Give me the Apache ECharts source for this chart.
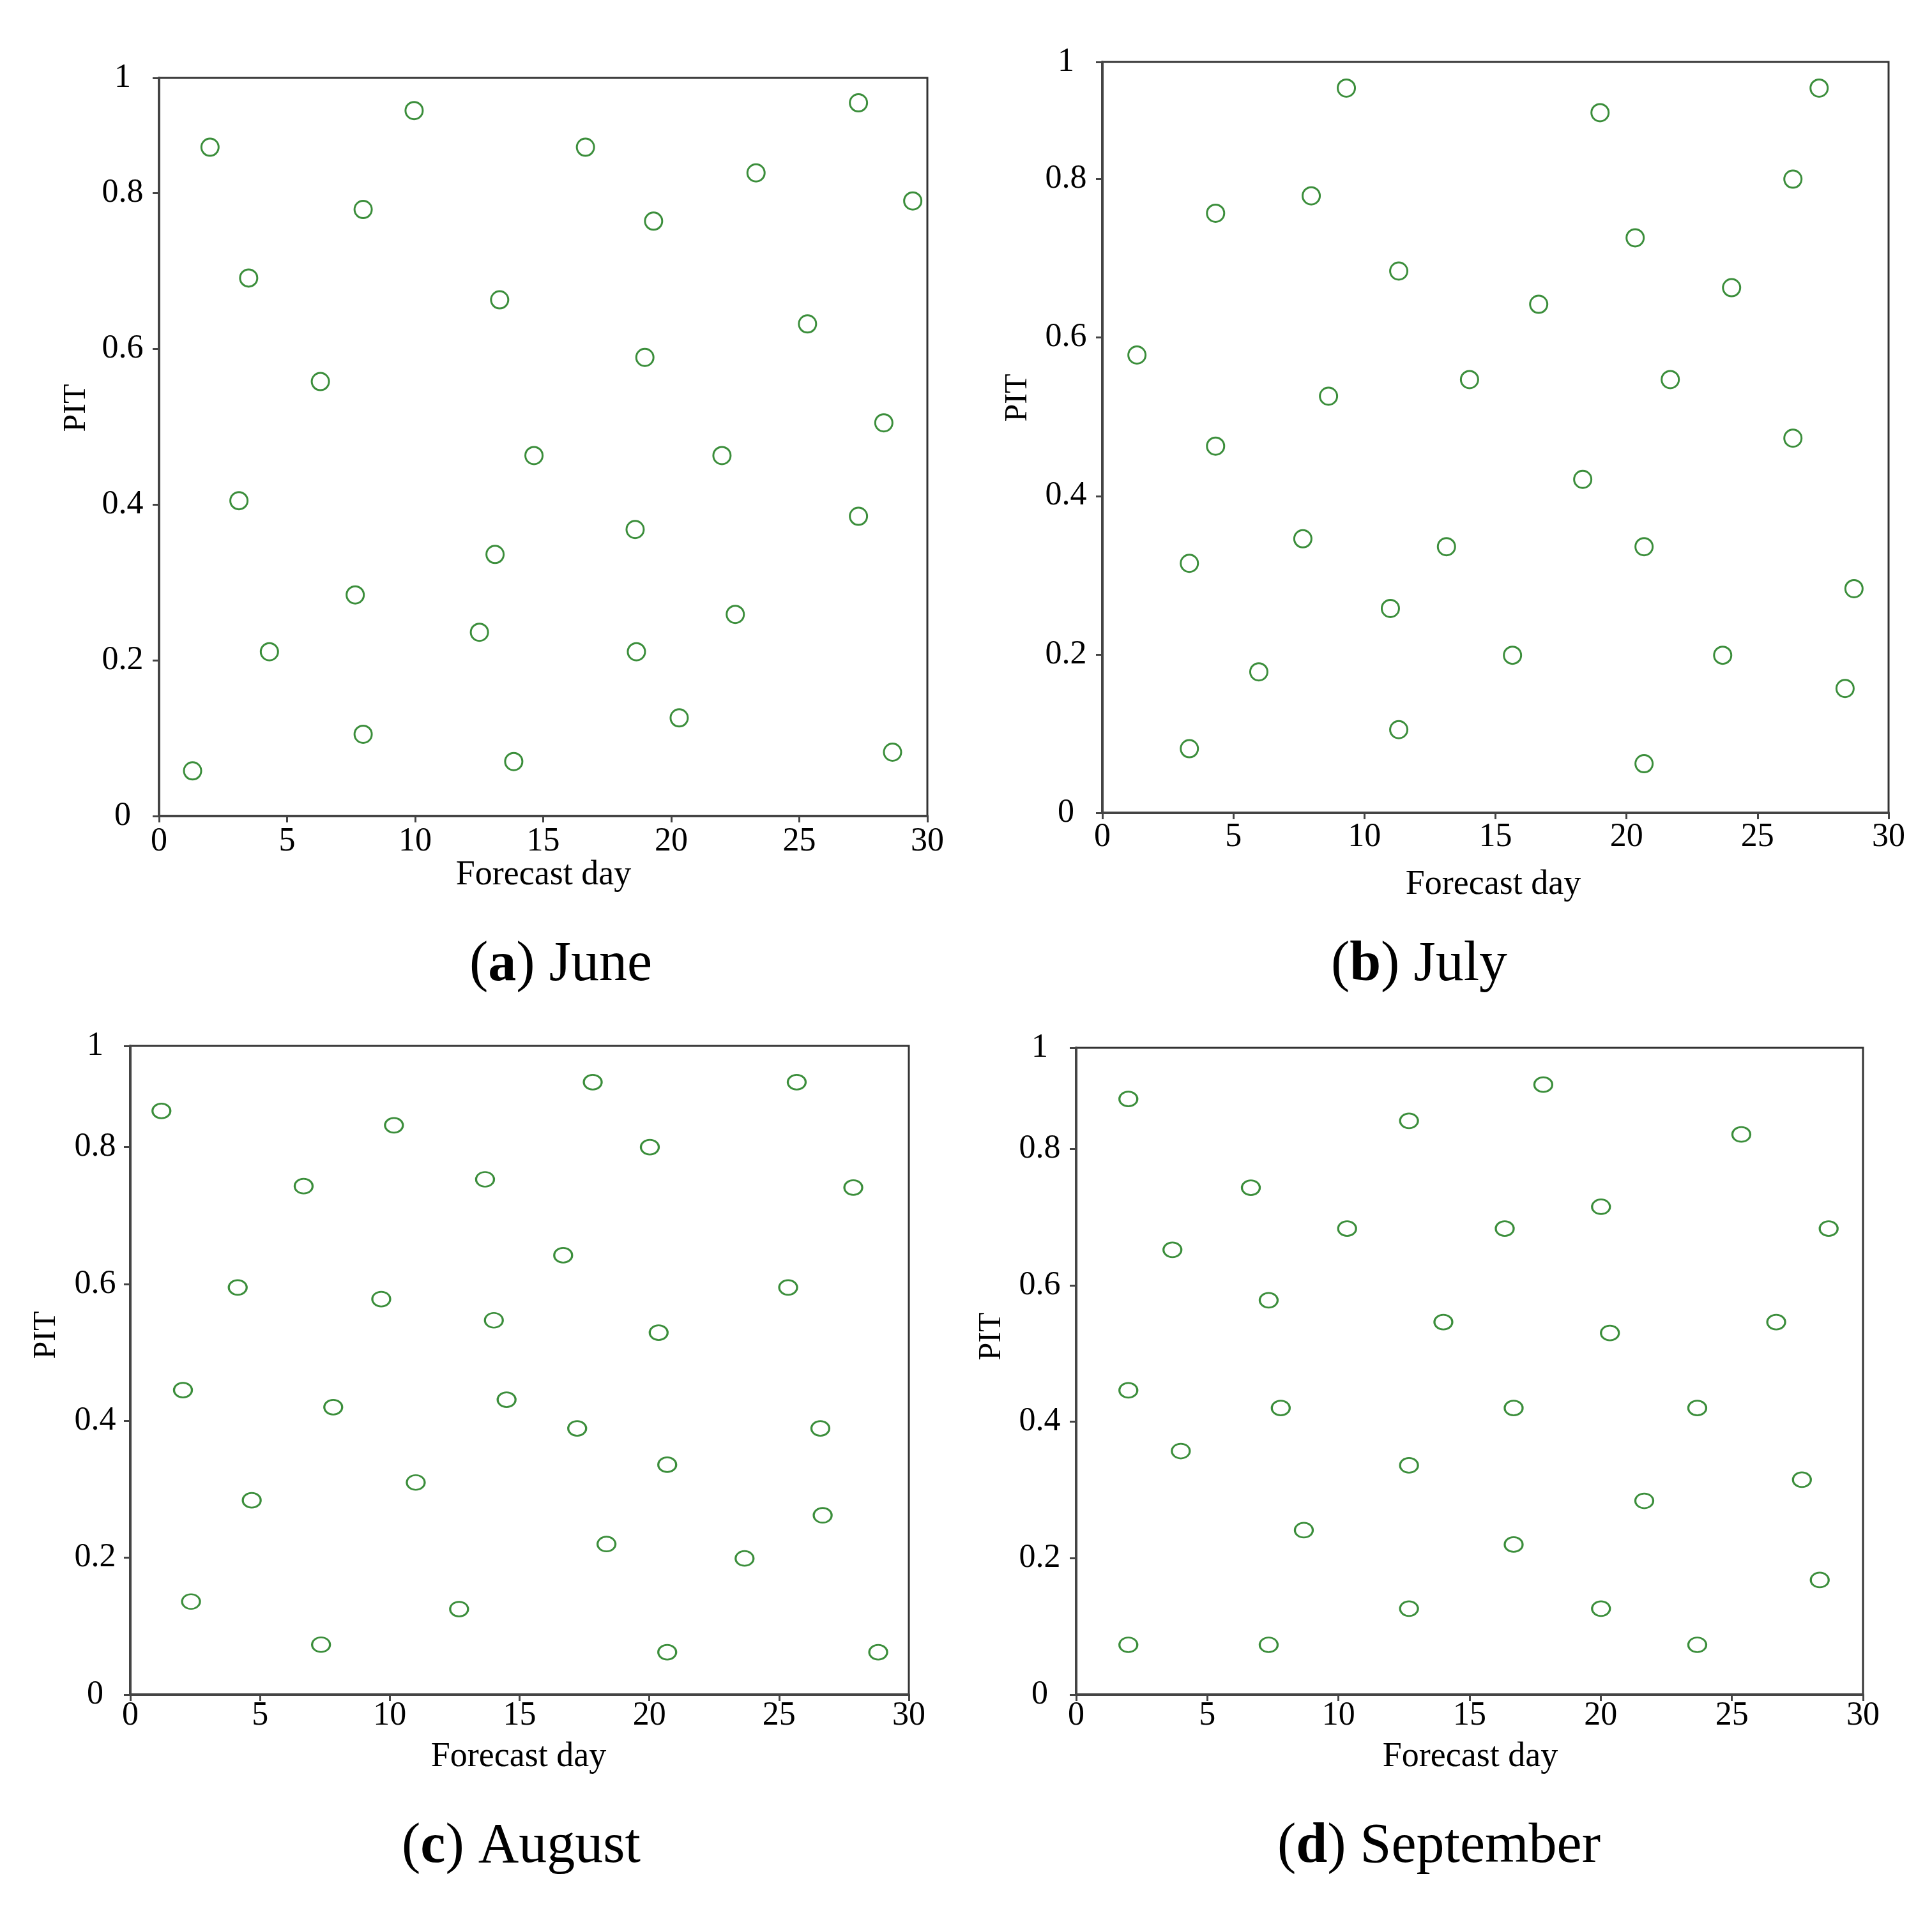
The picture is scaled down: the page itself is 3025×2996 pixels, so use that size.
<!DOCTYPE html>
<html>
<head>
<meta charset="utf-8">
<script src="https://cdn.jsdelivr.net/npm/echarts@6/dist/echarts.min.js"></script>
<style>
html,body{margin:0;padding:0;background:#ffffff;}
#chart{width:3025px;height:2996px;}
</style>
</head>
<body>
<div id="chart"></div>
<script>
// ---- Data ----
const xTickValues = [0, 5, 10, 15, 20, 25, 30];
const yTickLabels = ['0', '0.2', '0.4', '0.6', '0.8', '1'];
const panelLetters = ['a', 'b', 'c', 'd'];
const panelMonths = ['June', 'July', 'August', 'September'];
const xAxisTitle = 'Forecast day';
const yAxisTitle = 'PIT';

const juneDay = [1.31, 1.99, 3.12, 3.50, 4.31, 6.30, 7.66, 7.97, 7.97, 9.96,
                 12.51, 13.12, 13.30, 13.85, 14.64, 16.65, 18.59, 18.64, 18.97, 19.31,
                 20.31, 21.98, 22.50, 23.31, 25.32, 27.31, 27.31, 28.30, 28.64, 29.43];
const junePIT = [0.058, 0.859, 0.405, 0.691, 0.211, 0.558, 0.284, 0.779, 0.105, 0.906,
                 0.236, 0.336, 0.663, 0.070, 0.463, 0.859, 0.368, 0.211, 0.589, 0.764,
                 0.126, 0.463, 0.259, 0.826, 0.632, 0.916, 0.385, 0.505, 0.082, 0.790];

const julyDay = [1.32, 3.32, 3.32, 4.32, 4.32, 5.97, 7.65, 7.97, 8.63, 9.31,
                 10.99, 11.31, 11.31, 13.13, 14.01, 15.65, 16.65, 18.33, 18.99, 20.33,
                 20.67, 20.67, 21.67, 23.67, 24.01, 26.35, 26.35, 27.35, 28.34, 28.68];
const julyPIT = [0.578, 0.315, 0.081, 0.757, 0.463, 0.178, 0.346, 0.779, 0.526, 0.915,
                 0.258, 0.684, 0.105, 0.336, 0.547, 0.199, 0.642, 0.421, 0.884, 0.726,
                 0.336, 0.062, 0.547, 0.199, 0.663, 0.800, 0.473, 0.915, 0.157, 0.283];

const augustDay = [1.20, 2.03, 2.34, 4.14, 4.68, 6.68, 7.35, 7.82, 9.67, 10.16,
                   11.00, 12.67, 13.67, 14.01, 14.50, 16.68, 17.22, 17.82, 18.35, 20.02,
                   20.36, 20.69, 20.69, 23.67, 25.35, 25.68, 26.59, 26.68, 27.86, 28.82];
const augustPIT = [0.853, 0.445, 0.136, 0.595, 0.284, 0.743, 0.073, 0.420, 0.578, 0.832,
                   0.310, 0.125, 0.753, 0.547, 0.431, 0.642, 0.389, 0.895, 0.220, 0.800,
                   0.529, 0.336, 0.062, 0.199, 0.595, 0.895, 0.389, 0.262, 0.741, 0.062];

const septemberDay = [1.99, 1.99, 1.99, 3.67, 3.99, 6.66, 7.34, 7.34, 7.80, 8.68,
                      10.33, 12.69, 12.69, 12.69, 14.00, 16.34, 16.68, 16.68, 17.81, 20.01,
                      20.01, 20.35, 21.66, 23.68, 23.68, 25.36, 26.69, 27.67, 28.35, 28.69];
const septemberPIT = [0.873, 0.446, 0.073, 0.652, 0.357, 0.743, 0.578, 0.073, 0.420, 0.241,
                      0.683, 0.841, 0.336, 0.126, 0.546, 0.683, 0.420, 0.220, 0.894, 0.715,
                      0.126, 0.530, 0.284, 0.420, 0.073, 0.821, 0.546, 0.315, 0.168, 0.683];

// ---- Layout / style ----
const FONT = '"Liberation Serif", "Times New Roman", serif';
const GREEN = '#3b8e3b';
const AXIS_COLOR = '#444444';
const Y_TOP = 0.948;   // top of the plotting box (labelled "1" in the reference)

const panels = [
  {day: juneDay, pit: junePIT, grid: {left: 249, top: 122, width: 1203, height: 1156},
   xLabelMargin: 40, yLabelMargin: 57, sym: [27, 27],
   xTitle: [851, 1371], yTitle: [120, 639], caption: [878, 1512]},
  {day: julyDay, pit: julyPIT, grid: {left: 1726, top: 97, width: 1231, height: 1176},
   xLabelMargin: 38, yLabelMargin: 57, sym: [27, 27],
   xTitle: [2338, 1386], yTitle: [1594, 623], caption: [2222, 1512]},
  {day: augustDay, pit: augustPIT, grid: {left: 204, top: 1638, width: 1219, height: 1016},
   xLabelMargin: 33, yLabelMargin: 55, sym: [28, 23],
   xTitle: [812, 2752], yTitle: [73, 2091], caption: [816, 2893]},
  {day: septemberDay, pit: septemberPIT, grid: {left: 1685, top: 1641, width: 1232, height: 1013},
   xLabelMargin: 33, yLabelMargin: 57, sym: [28, 23],
   xTitle: [2302, 2752], yTitle: [1553, 2093], caption: [2253, 2893]}
];

function yLabel(v) {
  if (v > 0.9) return yTickLabels[5];
  const idx = Math.round(v / 0.2);
  return yTickLabels[idx];
}

const grids = [], xAxes = [], yAxes = [], series = [], graphics = [];

panels.forEach((p, i) => {
  grids.push(Object.assign({
    show: true, borderColor: '#333333', borderWidth: 3,
    backgroundColor: 'rgba(0,0,0,0)', containLabel: false, outerBoundsMode: 'none'
  }, p.grid));

  xAxes.push({
    gridIndex: i, type: 'value', min: xTickValues[0], max: xTickValues[xTickValues.length - 1],
    interval: 5,
    axisLine: {show: true, onZero: false, lineStyle: {color: AXIS_COLOR, width: 4}},
    axisTick: {show: true, inside: false, length: 10, lineStyle: {color: AXIS_COLOR, width: 3}},
    axisLabel: {show: true, fontFamily: FONT, fontSize: 52, color: '#000', margin: p.xLabelMargin,
                verticalAlign: 'middle', formatter: v => String(v)},
    splitLine: {show: false}
  });

  yAxes.push({
    gridIndex: i, type: 'value', min: 0, max: Y_TOP, interval: 0.2,
    axisLine: {show: true, onZero: false, lineStyle: {color: AXIS_COLOR, width: 4}},
    axisTick: {show: true, inside: false, length: 10, lineStyle: {color: AXIS_COLOR, width: 3}},
    axisLabel: {show: true, fontFamily: FONT, fontSize: 52, color: '#000', margin: p.yLabelMargin,
                align: 'center', verticalAlign: 'middle', formatter: yLabel,
                showMinLabel: true, showMaxLabel: true},
    splitLine: {show: false}
  });

  series.push({
    type: 'scatter', xAxisIndex: i, yAxisIndex: i,
    data: p.day.map((d, k) => [d, p.pit[k]]),
    symbol: 'circle', symbolSize: p.sym,
    itemStyle: {color: 'rgba(255,255,255,0)', borderColor: GREEN, borderWidth: 3, opacity: 1},
    emphasis: {disabled: true},
    silent: true, animation: false
  });

  graphics.push({
    type: 'text', x: p.xTitle[0], y: p.xTitle[1],
    style: {text: xAxisTitle, font: '54px ' + FONT, fill: '#000',
            textAlign: 'center', textVerticalAlign: 'middle'}
  });
  graphics.push({
    type: 'text', x: p.yTitle[0], y: p.yTitle[1], rotation: Math.PI / 2,
    style: {text: yAxisTitle, font: '50px ' + FONT, fill: '#000',
            textAlign: 'center', textVerticalAlign: 'middle'}
  });
  graphics.push({
    type: 'text', x: p.caption[0], y: p.caption[1],
    style: {
      text: '({b|' + panelLetters[i] + '}) ' + panelMonths[i],
      font: '88px ' + FONT, fill: '#000',
      textAlign: 'center', textVerticalAlign: 'middle',
      rich: {b: {fontWeight: 'bold', fontSize: 88, fontFamily: FONT, fill: '#000'}}
    }
  });
});

const chart = echarts.init(document.getElementById('chart'), null, {renderer: 'canvas'});
chart.setOption({
  backgroundColor: '#ffffff',
  animation: false,
  grid: grids,
  xAxis: xAxes,
  yAxis: yAxes,
  series: series,
  graphic: graphics
});
</script>
</body>
</html>
